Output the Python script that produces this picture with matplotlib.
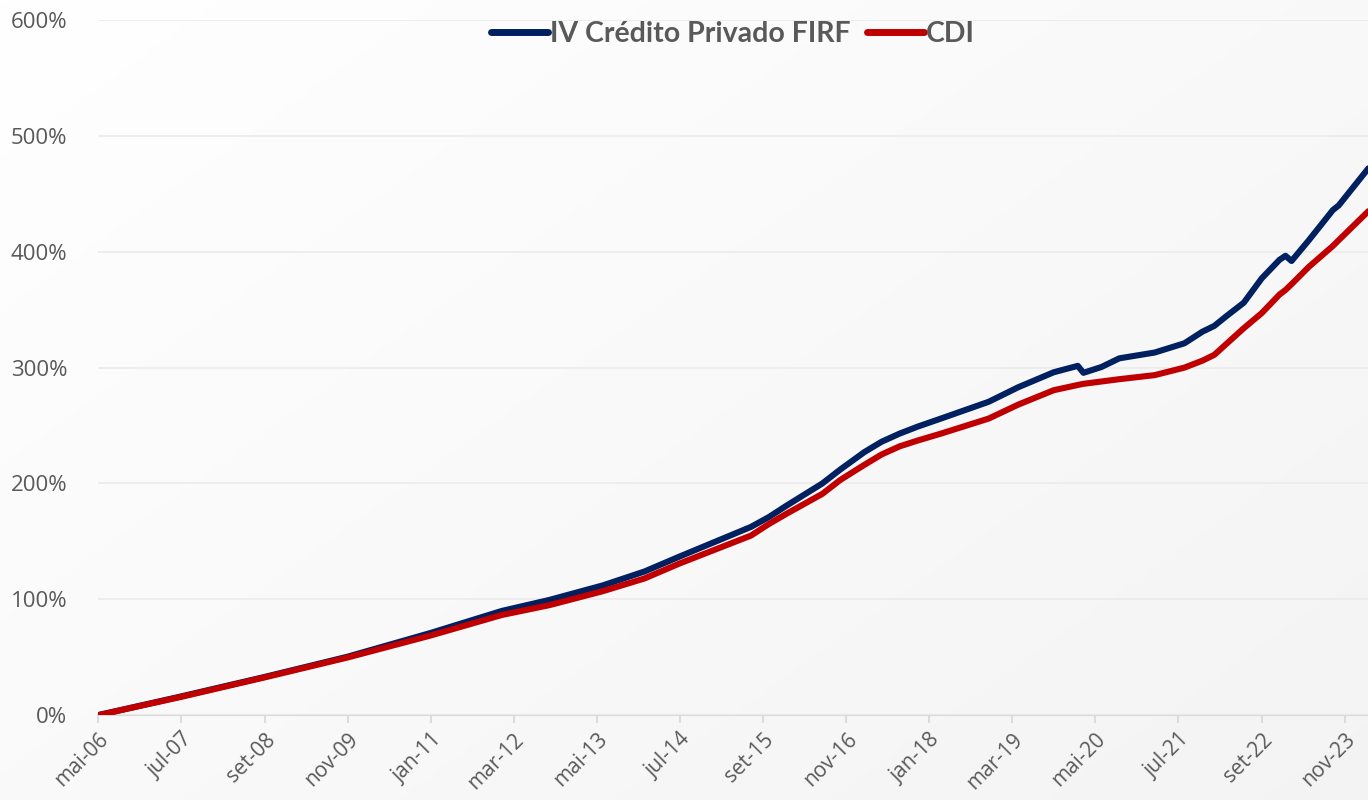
import numpy as np
import pandas as pd
import matplotlib
matplotlib.use('Agg')
import matplotlib.pyplot as plt

# data (month, cumulative return in %)
dates = ['2006-05', '2007-07', '2008-09', '2009-11', '2011-01', '2012-01',
         '2012-09', '2013-06', '2014-01', '2014-07', '2015-07', '2015-10',
         '2016-01', '2016-07', '2016-10', '2017-02', '2017-05', '2017-08',
         '2017-11', '2018-03', '2018-11', '2019-04', '2019-10', '2020-02',
         '2020-03', '2020-06', '2020-09', '2021-03', '2021-08', '2021-11',
         '2022-01', '2022-03', '2022-06', '2022-09', '2022-12', '2023-01',
         '2023-02', '2023-05', '2023-09', '2023-10', '2024-03']
iv_credito = [0, 16.2, 33.0, 50.5, 71.0, 90.0,
              99.5, 112, 124, 137, 162.5, 171,
              181, 200, 212, 227, 236, 243,
              249, 256, 270.5, 283, 296, 301.5,
              295.5, 300.5, 308, 313, 321, 331,
              336, 344, 356, 377, 393, 396.5,
              392, 410, 436, 440, 472]
cdi = [0, 15.8, 32.6, 49.8, 68.8, 86.5,
       95, 107, 118, 131, 155, 165,
       174, 191, 203, 216, 225, 232,
       237, 243, 256, 268, 280.5, 285,
       286, 288, 290, 293.5, 300, 306,
       311, 320, 334, 347, 363, 367,
       372, 387, 405, 410, 435]

tick_dates = ['2006-05', '2007-07', '2008-09', '2009-11', '2011-01', '2012-03',
              '2013-05', '2014-07', '2015-09', '2016-11', '2018-01', '2019-03',
              '2020-05', '2021-07', '2022-09', '2023-11']
meses = ['jan', 'fev', 'mar', 'abr', 'mai', 'jun',
         'jul', 'ago', 'set', 'out', 'nov', 'dez']

x = pd.to_datetime(dates)
xt = pd.to_datetime(tick_dates)
tick_labels = [f'{meses[d.month - 1]}-{d.strftime("%y")}' for d in xt]

plt.rcParams['font.family'] = ['Open Sans', 'DejaVu Sans']
grey = '#595959'

fig = plt.figure(figsize=(13.68, 8), dpi=100)

# very light diagonal background gradient
bg = fig.add_axes([0, 0, 1, 1], zorder=-10)
gx, gy = np.meshgrid(np.linspace(0, 1, 300), np.linspace(0, 1, 200))
shade = 1.0 - 0.045 * (0.55 * gx + 0.45 * gy)
rgb = np.dstack([shade, shade, shade])
bg.imshow(rgb, aspect='auto', origin='upper', extent=[0, 1, 0, 1])
bg.axis('off')

ax = fig.add_axes([0.0716, 0.106, 0.9284, 0.869])
ax.patch.set_alpha(0)

ax.plot(x, np.array(iv_credito) / 100, color='#002060', lw=4.4,
        solid_capstyle='round', solid_joinstyle='round', label='IV Crédito Privado FIRF')
ax.plot(x, np.array(cdi) / 100, color='#C00000', lw=4.4,
        solid_capstyle='round', solid_joinstyle='round', label='CDI')

ax.set_ylim(0, 6)
ax.set_xlim(x[0], pd.Timestamp('2024-02-28'))
ax.set_yticks(np.arange(0, 7, 1))
ax.set_yticklabels([f'{v * 100}%' for v in range(7)])
ax.yaxis.grid(True, color='#ececec', lw=1.3)
ax.set_axisbelow(True)

ax.set_xticks(xt)
ax.set_xticklabels(tick_labels, rotation=45, ha='right', va='top',
                   rotation_mode='anchor')

for s in ['top', 'right', 'left']:
    ax.spines[s].set_visible(False)
ax.spines['bottom'].set_color('#d9d9d9')
ax.spines['bottom'].set_linewidth(1.5)
ax.spines['bottom'].set_zorder(0.5)

ax.tick_params(axis='y', length=0, pad=22, labelsize=16, labelcolor=grey)
ax.tick_params(axis='x', length=6, width=1.3, color='#d9d9d9', pad=4,
               labelsize=15, labelcolor=grey)

leg = ax.legend(loc='upper center', bbox_to_anchor=(0.5, 1.035), ncol=2,
                frameon=False, handlelength=2.0, handletextpad=0.05,
                columnspacing=0.6, prop={'family': 'Lato', 'weight': 'bold', 'size': 20.5})
for t in leg.get_texts():
    t.set_color(grey)
for h in leg.get_lines():
    h.set_linewidth(5)

fig.savefig('out.png', dpi=100)
